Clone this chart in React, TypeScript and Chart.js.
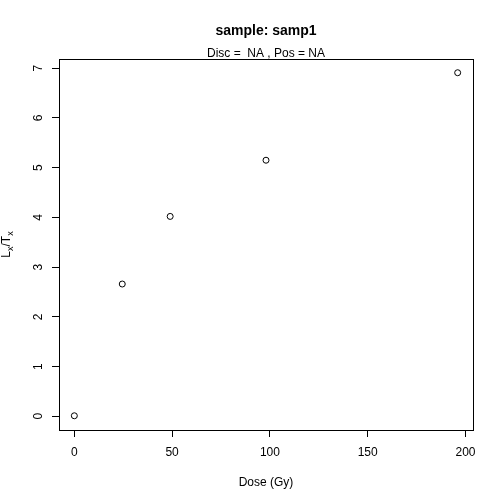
import { useEffect, useRef } from 'react'
import { Chart, registerables } from 'chart.js'

Chart.register(...registerables)

// values
const doses = [0, 24.5, 49, 98, 196]
const ltValues = [0.01, 2.66, 4.02, 5.15, 6.91]
const xTicks = [0, 50, 100, 150, 200]
const yTicks = [0, 1, 2, 3, 4, 5, 6, 7]
const mainTitle = 'sample: samp1'
const subTitle = 'Disc =  NA , Pos = NA'
const xLabel = 'Dose (Gy)'

const FONT = '"Liberation Sans", Arial, Helvetica, sans-serif'

// R-style extras: box, titles, rotated y labels, Lx/Tx with subscripts
const rDecor = {
  id: 'rDecor',
  afterDraw(chart: Chart) {
    const { ctx, chartArea } = chart
    const { left, right, top, bottom } = chartArea
    const cx = (left + right) / 2
    const cy = (top + bottom) / 2
    ctx.save()
    ctx.strokeStyle = '#000'
    ctx.lineWidth = 1
    ctx.strokeRect(left + 0.5, top + 0.5, right - left, bottom - top)

    ctx.fillStyle = '#000'
    ctx.textAlign = 'center'
    ctx.textBaseline = 'alphabetic'
    ctx.font = 'bold 14px ' + FONT
    ctx.fillText(mainTitle, cx, 35)
    ctx.font = '12px ' + FONT
    ctx.fillText(subTitle, cx, 56.5)
    ctx.fillText(xLabel, cx, 485.5)

    // y tick labels, rotated like R's las = 0
    const yScale = chart.scales.y
    yScale.ticks.forEach(t => {
      const y = yScale.getPixelForValue(t.value)
      ctx.save()
      ctx.translate(42, y)
      ctx.rotate(-Math.PI / 2)
      ctx.fillText(String(t.value), 0, 0)
      ctx.restore()
    })

    // y axis title: L_x / T_x
    const parts = [
      { s: 'L', sub: false },
      { s: 'x', sub: true },
      { s: '/', sub: false },
      { s: 'T', sub: false },
      { s: 'x', sub: true },
    ]
    const fontOf = (sub: boolean) => (sub ? '9px ' : '12px ') + FONT
    let total = 0
    parts.forEach(p => {
      ctx.font = fontOf(p.sub)
      total += ctx.measureText(p.s).width
    })
    ctx.save()
    ctx.translate(10, cy)
    ctx.rotate(-Math.PI / 2)
    ctx.textAlign = 'left'
    let pos = -total / 2
    parts.forEach(p => {
      ctx.font = fontOf(p.sub)
      ctx.fillText(p.s, pos, p.sub ? 3 : 0)
      pos += ctx.measureText(p.s).width
    })
    ctx.restore()
    ctx.restore()
  },
}

export default function App() {
  const canvasRef = useRef<HTMLCanvasElement>(null)
  const chartRef = useRef<Chart | null>(null)

  useEffect(() => {
    document.body.style.margin = '0'
    if (!canvasRef.current) return
    if (chartRef.current) chartRef.current.destroy()

    chartRef.current = new Chart(canvasRef.current, {
      type: 'scatter',
      data: {
        datasets: [
          {
            data: doses.map((d, i) => ({ x: d, y: ltValues[i] })),
            pointStyle: 'circle',
            pointRadius: 3,
            pointBorderWidth: 1,
            borderColor: '#000',
            backgroundColor: 'rgba(0,0,0,0)',
          },
        ],
      },
      options: {
        responsive: false,
        animation: false,
        devicePixelRatio: 1,
        layout: { padding: { top: 59, right: 31, left: 0, bottom: 0 } },
        plugins: {
          legend: { display: false },
          tooltip: { enabled: false },
        },
        scales: {
          x: {
            type: 'linear',
            min: -7.84,
            max: 203.84,
            afterBuildTicks: s => {
              s.ticks = xTicks.map(v => ({ value: v }))
            },
            afterFit: s => {
              s.height = 74
            },
            ticks: {
              color: '#000',
              font: { family: FONT, size: 12 },
              padding: 8,
              maxRotation: 0,
            },
            grid: {
              drawOnChartArea: false,
              drawTicks: true,
              tickLength: 7,
              color: '#000',
            },
            border: { display: false },
          },
          y: {
            type: 'linear',
            min: -0.276,
            max: 7.186,
            afterBuildTicks: s => {
              s.ticks = yTicks.map(v => ({ value: v }))
            },
            afterFit: s => {
              s.width = 59
            },
            ticks: { display: false },
            grid: {
              drawOnChartArea: false,
              drawTicks: true,
              tickLength: 7,
              color: '#000',
            },
            border: { display: false },
          },
        },
      },
      plugins: [rDecor],
    })

    return () => {
      if (chartRef.current) {
        chartRef.current.destroy()
        chartRef.current = null
      }
    }
  }, [])

  return (
    <div style={{ width: 504, height: 504, background: '#fff' }}>
      <canvas ref={canvasRef} width="504" height="504"></canvas>
    </div>
  )
}
